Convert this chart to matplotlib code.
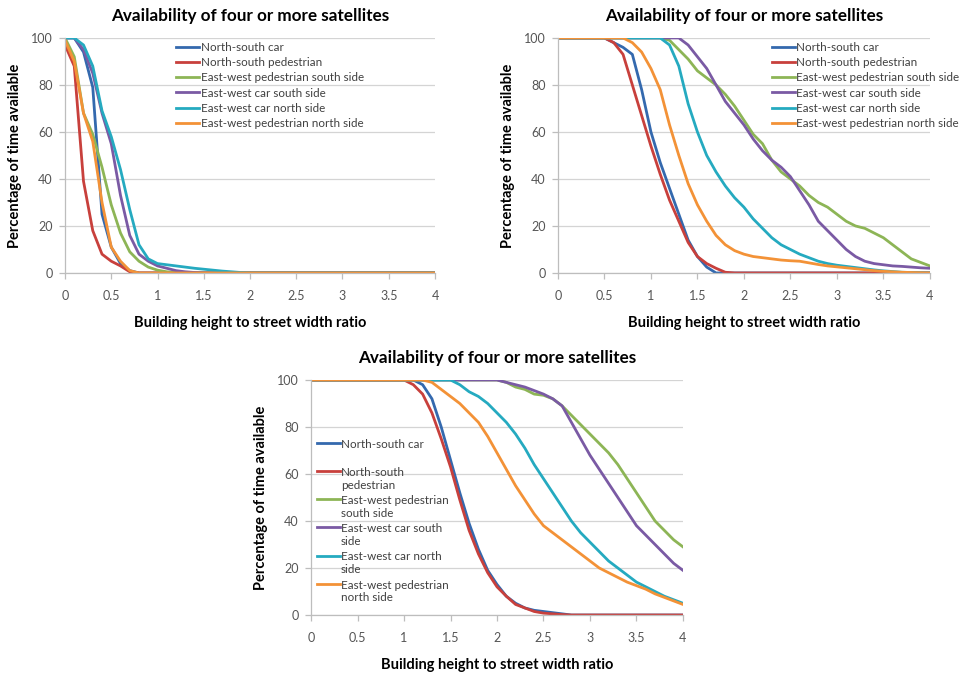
import matplotlib
matplotlib.use("Agg")
import matplotlib.pyplot as plt

plt.rcParams['font.family'] = ['Lato', 'DejaVu Sans']

# building height / street width ratio, sampled every 0.1
RATIO = [0.0, 0.1, 0.2, 0.3, 0.4, 0.5, 0.6, 0.7, 0.8, 0.9,
         1.0, 1.1, 1.2, 1.3, 1.4, 1.5, 1.6, 1.7, 1.8, 1.9,
         2.0, 2.1, 2.2, 2.3, 2.4, 2.5, 2.6, 2.7, 2.8, 2.9,
         3.0, 3.1, 3.2, 3.3, 3.4, 3.5, 3.6, 3.7, 3.8, 3.9, 4.0]

SERIES_NAMES = ['North-south car', 'North-south pedestrian',
                'East-west pedestrian south side', 'East-west car south side',
                'East-west car north side', 'East-west pedestrian north side']
# bottom chart legend wraps its entries (trailing newline keeps slot heights equal)
SERIES_NAMES_WRAPPED = ['North-south car\n', 'North-south\npedestrian',
                        'East-west pedestrian\nsouth side', 'East-west car south\nside',
                        'East-west car north\nside', 'East-west pedestrian\nnorth side']
COLORS = ['#3469AE', '#C8403C', '#8DB556', '#7A5AA4', '#25AAC0', '#F39237']

TITLE = 'Availability of four or more satellites'
XLABEL = 'Building height to street width ratio'
YLABEL = 'Percentage of time available'
XTICKS = [0, 0.5, 1, 1.5, 2, 2.5, 3, 3.5, 4]
XTICK_LABELS = ['0', '0.5', '1', '1.5', '2', '2.5', '3', '3.5', '4']
YTICKS = [0, 20, 40, 60, 80, 100]

# panel 1 (top left)
P1_NS_CAR = [100, 100, 94, 79, 25, 11, 4, 1, 0, 0,
             0, 0, 0, 0, 0, 0, 0, 0, 0, 0,
             0, 0, 0, 0, 0, 0, 0, 0, 0, 0,
             0, 0, 0, 0, 0, 0, 0, 0, 0, 0, 0]
P1_NS_PED = [97, 88, 39, 18, 8, 5, 3, 0.5, 0, 0,
             0, 0, 0, 0, 0, 0, 0, 0, 0, 0,
             0, 0, 0, 0, 0, 0, 0, 0, 0, 0,
             0, 0, 0, 0, 0, 0, 0, 0, 0, 0, 0]
P1_EW_PED_S = [100, 92, 68, 59, 45, 29, 17, 9, 5, 2.5,
               1.2, 0.5, 0.2, 0, 0, 0, 0, 0, 0, 0,
               0, 0, 0, 0, 0, 0, 0, 0, 0, 0,
               0, 0, 0, 0, 0, 0, 0, 0, 0, 0, 0]
P1_EW_CAR_S = [100, 100, 95, 85, 68, 55, 33, 16, 8, 5,
               3, 2, 1, 0.5, 0.2, 0, 0, 0, 0, 0,
               0, 0, 0, 0, 0, 0, 0, 0, 0, 0,
               0, 0, 0, 0, 0, 0, 0, 0, 0, 0, 0]
P1_EW_CAR_N = [100, 100, 97, 88, 69, 58, 44, 27, 12, 6,
               4, 3.5, 3, 2.5, 2, 1.6, 1.2, 0.8, 0.5, 0.2,
               0, 0, 0, 0, 0, 0, 0, 0, 0, 0,
               0, 0, 0, 0, 0, 0, 0, 0, 0, 0, 0]
P1_EW_PED_N = [99, 90, 68, 56, 30, 11, 5, 1, 0, 0,
               0, 0, 0, 0, 0, 0, 0, 0, 0, 0,
               0, 0, 0, 0, 0, 0, 0, 0, 0, 0,
               0, 0, 0, 0, 0, 0, 0, 0, 0, 0, 0]

# panel 2 (top right)
P2_NS_CAR = [100, 100, 100, 100, 100, 100, 98, 96, 93, 78,
             60, 47, 36, 25, 14, 7, 2.5, 0, 0, 0,
             0, 0, 0, 0, 0, 0, 0, 0, 0, 0,
             0, 0, 0, 0, 0, 0, 0, 0, 0, 0, 0]
P2_NS_PED = [100, 100, 100, 100, 100, 100, 98, 93, 80, 67,
             54, 42, 31, 22, 13, 7, 4, 2, 0.3, 0,
             0, 0, 0, 0, 0, 0, 0, 0, 0, 0,
             0, 0, 0, 0, 0, 0, 0, 0, 0, 0, 0]
P2_EW_PED_S = [100, 100, 100, 100, 100, 100, 100, 100, 100, 100,
               100, 100, 99, 95, 91, 86, 83, 80, 76, 71,
               65, 59, 55, 48, 43, 40, 37, 33, 30, 28,
               25, 22, 20, 19, 17, 15, 12, 9, 6, 4.5, 3]
P2_EW_CAR_S = [100, 100, 100, 100, 100, 100, 100, 100, 100, 100,
               100, 100, 100, 100, 97, 92, 87, 80, 73, 68,
               63, 57, 52, 48, 45, 41, 35, 29, 22, 18,
               14, 10, 7, 5, 4, 3.5, 3, 2.8, 2.5, 2.2, 2]
P2_EW_CAR_N = [100, 100, 100, 100, 100, 100, 100, 100, 100, 100,
               100, 100, 97, 88, 72, 60, 50, 43, 37, 32,
               28, 23, 19, 15, 12, 10, 8, 6.5, 5, 4,
               3.3, 2.8, 2.3, 1.8, 1.3, 0.9, 0.6, 0.3, 0.2, 0.1, 0]
P2_EW_PED_N = [100, 100, 100, 100, 100, 100, 100, 100, 98, 94,
               87, 78, 63, 50, 38, 29, 22, 16, 12, 9.5,
               8, 7, 6.5, 6, 5.5, 5.2, 5, 4.3, 3.6, 3,
               2.6, 2.2, 1.8, 1.4, 1, 0.7, 0.5, 0.3, 0.2, 0.1, 0]

# panel 3 (bottom)
P3_NS_CAR = [100, 100, 100, 100, 100, 100, 100, 100, 100, 100,
             100, 100, 98, 92, 80, 66, 52, 39, 28, 19,
             13, 8, 5, 3, 2, 1.5, 1, 0.5, 0, 0,
             0, 0, 0, 0, 0, 0, 0, 0, 0, 0, 0]
P3_NS_PED = [100, 100, 100, 100, 100, 100, 100, 100, 100, 100,
             100, 98, 94, 86, 75, 63, 49, 36, 26, 18,
             12, 8, 4.5, 3, 1.5, 0.8, 0.5, 0.2, 0, 0,
             0, 0, 0, 0, 0, 0, 0, 0, 0, 0, 0]
P3_EW_PED_S = [100, 100, 100, 100, 100, 100, 100, 100, 100, 100,
               100, 100, 100, 100, 100, 100, 100, 100, 100, 100,
               100, 99, 97, 96, 94, 93.5, 92, 89, 85, 81,
               77, 73, 69, 64, 58, 52, 46, 40, 36, 32, 29]
P3_EW_CAR_S = [100, 100, 100, 100, 100, 100, 100, 100, 100, 100,
               100, 100, 100, 100, 100, 100, 100, 100, 100, 100,
               100, 99, 98, 97, 95.5, 94, 92, 89, 82, 75,
               68, 62, 56, 50, 44, 38, 34, 30, 26, 22, 19]
P3_EW_CAR_N = [100, 100, 100, 100, 100, 100, 100, 100, 100, 100,
               100, 100, 100, 100, 100, 100, 98, 95, 93, 90,
               86, 82, 77, 71, 64, 58, 52, 46, 40, 35,
               31, 27, 23, 20, 17, 14, 12, 10, 8, 6.5, 5]
P3_EW_PED_N = [100, 100, 100, 100, 100, 100, 100, 100, 100, 100,
               100, 100, 100, 99, 96, 93, 90, 86, 82, 76,
               69, 62, 55, 49, 43, 38, 35, 32, 29, 26,
               23, 20, 18, 16, 14, 12.5, 11, 9, 7.5, 6, 4.5]

PANEL1 = [P1_NS_CAR, P1_NS_PED, P1_EW_PED_S, P1_EW_CAR_S, P1_EW_CAR_N, P1_EW_PED_N]
PANEL2 = [P2_NS_CAR, P2_NS_PED, P2_EW_PED_S, P2_EW_CAR_S, P2_EW_CAR_N, P2_EW_PED_N]
PANEL3 = [P3_NS_CAR, P3_NS_PED, P3_EW_PED_S, P3_EW_CAR_S, P3_EW_CAR_N, P3_EW_PED_N]


def draw_panel(ax, series, names, legend_anchor, labelspacing, handle_on_top=False):
    for vals, name, col in zip(series, names, COLORS):
        ax.plot(RATIO, vals, color=col, lw=2.0, label=name, solid_joinstyle='round')
    ax.set_xlim(0, 4)
    ax.set_ylim(0, 100)
    ax.set_xticks(XTICKS)
    ax.set_xticklabels(XTICK_LABELS)
    ax.set_yticks(YTICKS)
    ax.grid(axis='y', color='#D4D4D4', lw=0.9)
    ax.set_axisbelow(True)
    for side in ['top', 'right']:
        ax.spines[side].set_visible(False)
    for side in ['left', 'bottom']:
        ax.spines[side].set_color('#BDBDBD')
        ax.spines[side].set_linewidth(0.9)
    ax.tick_params(axis='both', colors='#BDBDBD', labelcolor='#555555',
                   labelsize=9, length=4, width=0.9)
    ax.tick_params(axis='x', pad=8)
    ax.tick_params(axis='y', pad=5)
    ax.set_title(TITLE, fontsize=12.3, fontweight='bold', pad=12)
    ax.set_xlabel(XLABEL, fontsize=10.5, fontweight='bold', labelpad=10)
    ax.set_ylabel(YLABEL, fontsize=10.5, fontweight='bold', labelpad=6)
    leg = ax.legend(loc='upper left', bbox_to_anchor=legend_anchor, frameon=False,
                    fontsize=8.4, handlelength=2.0, handletextpad=0.1,
                    labelspacing=labelspacing, borderaxespad=0, borderpad=0)
    for t in leg.get_texts():
        t.set_color('#404040')
    if handle_on_top:
        # put the line sample next to the first text line, like Excel does
        for col in leg._legend_handle_box.get_children():
            for entry in col.get_children():
                entry.align = 'top'


fig = plt.figure(figsize=(9.66, 6.74), dpi=100)
ax1 = fig.add_axes([0.0673, 0.5950, 0.383, 0.3487])
ax2 = fig.add_axes([0.5776, 0.5950, 0.385, 0.3487])
ax3 = fig.add_axes([0.3220, 0.0875, 0.385, 0.3487])

draw_panel(ax1, PANEL1, SERIES_NAMES, (0.30, 0.983), 0.36)
draw_panel(ax2, PANEL2, SERIES_NAMES, (0.575, 0.983), 0.36)
draw_panel(ax3, PANEL3, SERIES_NAMES_WRAPPED, (0.015, 0.751), 0.38, handle_on_top=True)

fig.savefig('out.png', dpi=100)
